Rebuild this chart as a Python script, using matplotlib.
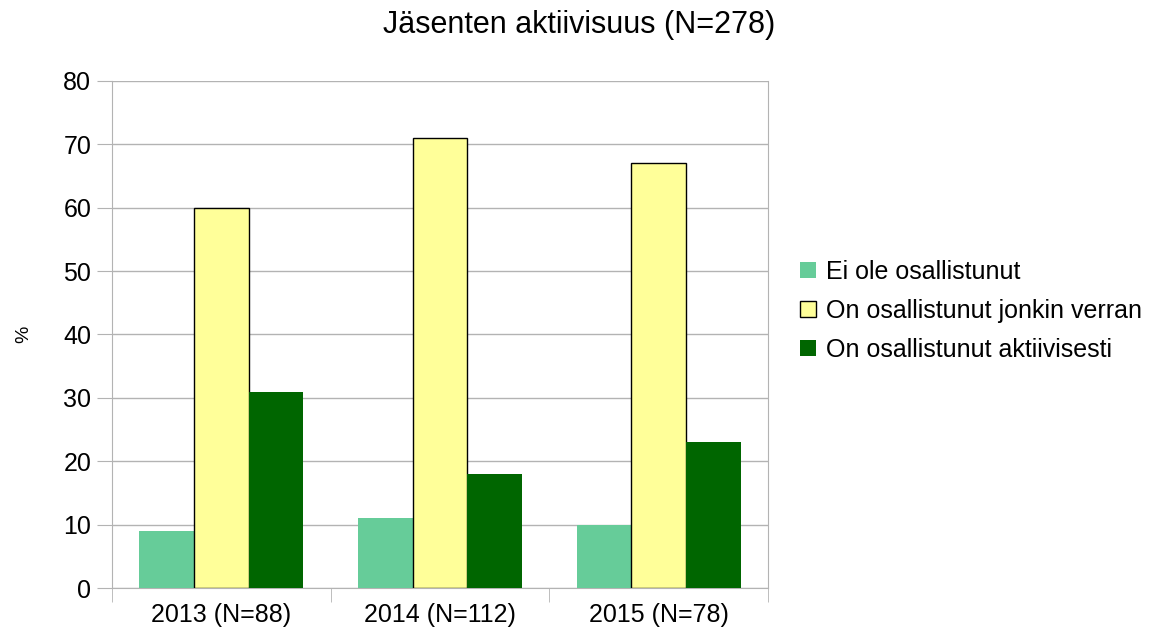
import numpy as np
import matplotlib.pyplot as plt
from matplotlib.ticker import FixedLocator

plt.rcParams['font.family'] = ['Liberation Sans', 'DejaVu Sans']

# data
categories = ['2013 (N=88)', '2014 (N=112)', '2015 (N=78)']
series_names = ['Ei ole osallistunut', 'On osallistunut jonkin verran',
                'On osallistunut aktiivisesti']
ei_ole = [9, 11, 10]
jonkin_verran = [60, 71, 67]
aktiivisesti = [31, 18, 23]

colors = ['#66cc99', '#ffff99', '#006600']
edges = ['none', 'black', 'none']

fig = plt.figure(figsize=(11.59, 6.37), dpi=100)
ax = fig.add_axes([112 / 1159, 1 - 588 / 637, (768 - 112) / 1159, (588 - 81) / 637])

x = np.arange(len(categories))
w = 0.25
for i, (vals, name) in enumerate(zip([ei_ole, jonkin_verran, aktiivisesti], series_names)):
    ax.bar(x + (i - 1) * w, vals, w, color=colors[i], edgecolor=edges[i],
           linewidth=1.0 if edges[i] != 'none' else 0, label=name, zorder=3)

ax.set_xlim(-0.5, len(categories) - 0.5)
ax.set_ylim(0, 80)
ax.set_yticks(range(0, 81, 10))
ax.set_xticks(x)
ax.set_xticklabels(categories)
ax.xaxis.set_minor_locator(FixedLocator(np.arange(-0.5, len(categories), 1)))
ax.tick_params(axis='x', which='major', length=0, pad=11, labelsize=18)
ax.tick_params(axis='x', which='minor', length=10, color='#b3b3b3')
ax.tick_params(axis='y', length=11, color='#b3b3b3', labelsize=18, pad=4)
ax.yaxis.grid(True, color='#b3b3b3', linewidth=1, zorder=0)
for s in ax.spines.values():
    s.set_color('#b3b3b3')
ax.spines['top'].set_visible(False)

ax.set_ylabel('%', fontsize=14, labelpad=22)
fig.text(0.5, 1 - 25 / 637, 'Jäsenten aktiivisuus (N=278)', fontsize=22,
         ha='center', va='center')

ax.legend(loc='center left', bbox_to_anchor=((800 - 112) / 656, (588 - 311) / 507),
          frameon=False, fontsize=18, borderpad=0, borderaxespad=0,
          handlelength=0.64, handleheight=0.64, handletextpad=0.4, labelspacing=0.6)

fig.savefig('out.png', dpi=100)
